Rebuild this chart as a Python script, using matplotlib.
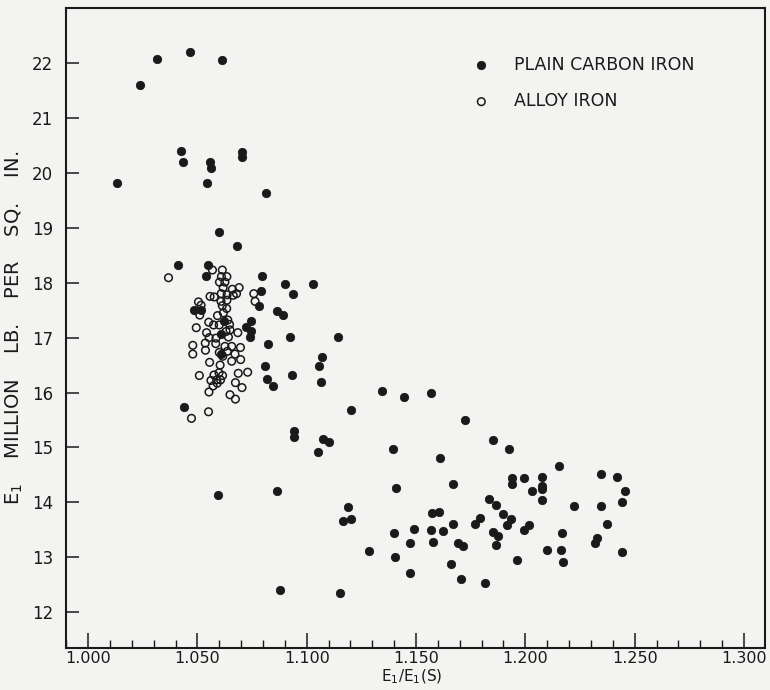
import matplotlib
matplotlib.use('Agg')
import matplotlib.pyplot as plt
from matplotlib.ticker import MultipleLocator, FixedLocator, FixedFormatter

# PLAIN CARBON IRON (filled circles)
carbon_x = [1.0314, 1.0468, 1.0614, 1.0238, 1.0425, 1.0433, 1.0559, 1.0562, 1.0703, 1.0706,
            1.0131, 1.0545, 1.0815, 1.0598, 1.0680, 1.0411, 1.0547, 1.0538, 1.0796, 1.0903,
            1.1031, 1.0792, 1.0937, 1.0781, 1.0485, 1.0515, 1.0866, 1.0893, 1.0743, 1.0722,
            1.0743, 1.0741, 1.0922, 1.1143, 1.0822, 1.0620, 1.0607, 1.0608, 1.1070, 1.1054,
            1.0811, 1.0934, 1.1067, 1.0817, 1.0845, 1.1344, 1.1443, 1.1568, 1.1203, 1.0944,
            1.0940, 1.1073, 1.1100, 1.1053, 1.1394, 1.1722, 1.1850, 1.1926, 1.1609, 1.1670,
            1.1407, 1.1834, 1.1868, 1.1899, 1.1938, 1.1939, 1.1189, 1.1166, 1.1204, 1.1572,
            1.1607, 1.1670, 1.1771, 1.1792, 1.1852, 1.1875, 1.1864, 1.1397, 1.1492, 1.1570,
            1.1625, 1.1471, 1.1579, 1.1693, 1.1713, 1.1285, 1.1403, 1.1662, 1.1474, 1.1707,
            1.1817, 1.1152, 1.0439, 1.0596, 1.0866, 1.0876, 1.2153, 1.2345, 1.2417, 1.2457,
            1.2442, 1.1995, 1.2077, 1.2077, 1.2077, 1.2031, 1.2078, 1.2221, 1.2348, 1.2373,
            1.1935, 1.1917, 1.2017, 1.1995, 1.2166, 1.2329, 1.2317, 1.2097, 1.2163, 1.2172,
            1.2442, 1.1963]
carbon_y = [22.08, 22.20, 22.05, 21.59, 20.39, 20.20, 20.20, 20.08, 20.38, 20.28,
            19.81, 19.81, 19.64, 18.93, 18.66, 18.32, 18.32, 18.12, 18.12, 17.98,
            17.98, 17.84, 17.79, 17.58, 17.50, 17.51, 17.49, 17.41, 17.31, 17.20,
            17.12, 17.01, 17.01, 17.02, 16.89, 17.31, 17.07, 16.71, 16.65, 16.49,
            16.49, 16.32, 16.19, 16.25, 16.12, 16.02, 15.91, 16.00, 15.68, 15.30,
            15.19, 15.16, 15.10, 14.91, 14.98, 15.50, 15.14, 14.98, 14.81, 14.34,
            14.26, 14.07, 13.95, 13.79, 14.44, 14.34, 13.91, 13.66, 13.70, 13.80,
            13.82, 13.61, 13.60, 13.72, 13.47, 13.39, 13.22, 13.45, 13.52, 13.49,
            13.48, 13.26, 13.28, 13.26, 13.20, 13.11, 13.00, 12.88, 12.72, 12.60,
            12.53, 12.35, 15.73, 14.14, 14.21, 12.40, 14.67, 14.52, 14.46, 14.20,
            14.00, 14.44, 14.46, 14.29, 14.24, 14.21, 14.05, 13.93, 13.93, 13.60,
            13.70, 13.59, 13.58, 13.50, 13.44, 13.36, 13.27, 13.14, 13.13, 12.92,
            13.09, 12.95]

# ALLOY IRON (open circles)
alloy_x = [1.0368, 1.0569, 1.0614, 1.0610, 1.0635, 1.0601, 1.0626, 1.0618, 1.0660, 1.0691,
           1.0679, 1.0609, 1.0636, 1.0664, 1.0558, 1.0577, 1.0635, 1.0608, 1.0758, 1.0764,
           1.0614, 1.0634, 1.0505, 1.0517, 1.0511, 1.0592, 1.0619, 1.0639, 1.0647, 1.0552,
           1.0574, 1.0495, 1.0600, 1.0649, 1.0631, 1.0542, 1.0554, 1.0685, 1.0585, 1.0642,
           1.0479, 1.0536, 1.0584, 1.0626, 1.0657, 1.0697, 1.0479, 1.0537, 1.0600, 1.0637,
           1.0672, 1.0657, 1.0698, 1.0616, 1.0556, 1.0604, 1.0599, 1.0576, 1.0615, 1.0562,
           1.0588, 1.0606, 1.0572, 1.0553, 1.0591, 1.0509, 1.0687, 1.0730, 1.0674, 1.0704,
           1.0649, 1.0674, 1.0551, 1.0473]
alloy_y = [18.09, 18.23, 18.23, 18.11, 18.11, 18.01, 18.01, 17.91, 17.88, 17.91,
           17.80, 17.80, 17.78, 17.77, 17.75, 17.74, 17.68, 17.66, 17.80, 17.66,
           17.58, 17.53, 17.65, 17.59, 17.41, 17.40, 17.45, 17.32, 17.24, 17.28,
           17.23, 17.18, 17.23, 17.14, 17.11, 17.09, 17.00, 17.09, 16.99, 17.01,
           16.86, 16.90, 16.89, 16.84, 16.84, 16.82, 16.70, 16.77, 16.73, 16.75,
           16.70, 16.57, 16.60, 16.66, 16.55, 16.50, 16.36, 16.32, 16.31, 16.22,
           16.23, 16.23, 16.12, 16.01, 16.17, 16.31, 16.35, 16.37, 16.18, 16.09,
           15.96, 15.88, 15.65, 15.53]

x_ticks = [1.000, 1.050, 1.100, 1.150, 1.200, 1.250, 1.300]
x_tick_labels = ['1.000', '1.050', '1.100', '1.150', '1.200', '1.250', '1.300']
y_ticks = [12, 13, 14, 15, 16, 17, 18, 19, 20, 21, 22]
y_tick_labels = ['12', '13', '14', '15', '16', '17', '18', '19', '20', '21', '22']

bg = '#f3f3f1'
ink = '#1a1a1a'

fig = plt.figure(figsize=(7.7, 6.9), dpi=100)
fig.patch.set_facecolor(bg)
ax = fig.add_axes([0.0851, 0.0609, 0.9084, 0.9275])
ax.set_facecolor(bg)

ax.scatter(carbon_x, carbon_y, s=36, color=ink, edgecolors=ink, linewidths=0.6,
           label='PLAIN CARBON IRON', zorder=3)
ax.scatter(alloy_x, alloy_y, s=30, facecolors='none', edgecolors=ink, linewidths=1.1,
           label='ALLOY IRON', zorder=2)

ax.set_xlim(0.9897, 1.3096)
ax.set_ylim(11.35, 23.0)

ax.xaxis.set_major_locator(FixedLocator(x_ticks))
ax.xaxis.set_major_formatter(FixedFormatter(x_tick_labels))
ax.xaxis.set_minor_locator(MultipleLocator(0.01))
ax.yaxis.set_major_locator(FixedLocator(y_ticks))
ax.yaxis.set_major_formatter(FixedFormatter(y_tick_labels))

ax.tick_params(axis='x', which='major', direction='in', length=11, width=1.1,
               labelsize=11.5, pad=2, colors=ink)
ax.tick_params(axis='x', which='minor', direction='in', length=6, width=1.0, colors=ink)
ax.tick_params(axis='y', which='major', direction='in', length=9, width=1.1,
               labelsize=12, pad=9, colors=ink)
ax.tick_params(top=False, right=False, which='both')

for sp in ax.spines.values():
    sp.set_linewidth(1.5)
    sp.set_color(ink)

ax.set_xlabel('E$_\\mathregular{1}$/E$_\\mathregular{1}$(S)', fontsize=11, color=ink)
ax.xaxis.set_label_coords(0.495, -0.031)
ax.set_ylabel('E$_\\mathregular{1}$    MILLION    LB.    PER    SQ.    IN.', fontsize=14, color=ink)
ax.yaxis.set_label_coords(-0.058, 0.5)

leg = ax.legend(loc='upper left', bbox_to_anchor=(0.582, 0.925), frameon=False,
                fontsize=12.5, handlelength=1.0, handletextpad=1.4, labelspacing=1.05,
                borderpad=0, borderaxespad=0, scatterpoints=1)
for t in leg.get_texts():
    t.set_color(ink)

fig.savefig('out.png', dpi=100, facecolor=bg)
